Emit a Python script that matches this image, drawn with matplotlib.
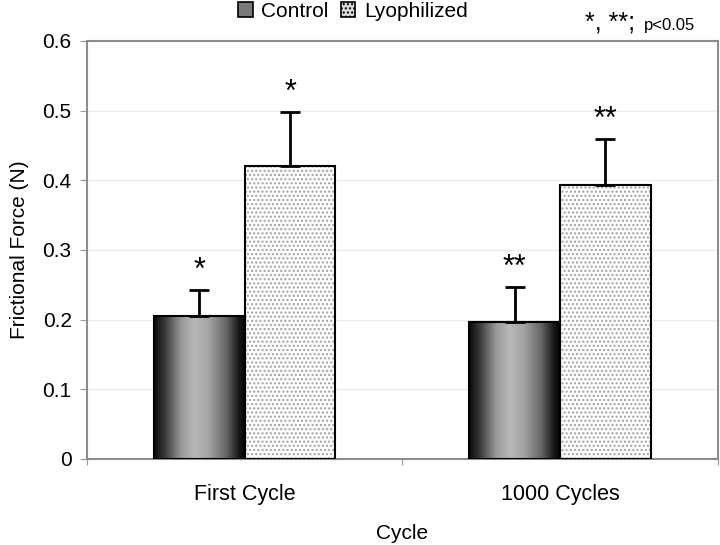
import numpy as np
import matplotlib
matplotlib.use("Agg")
import matplotlib.pyplot as plt
from matplotlib.patches import Patch
from matplotlib.colors import LinearSegmentedColormap

plt.rcParams['font.family'] = ['Liberation Sans', 'DejaVu Sans']

# data
categories = ['First Cycle', '1000 Cycles']
control = [0.205, 0.197]
control_err = [0.037, 0.050]
lyophilized = [0.421, 0.393]
lyophilized_err = [0.077, 0.066]
control_marks = ['*', '**']
lyo_marks = ['*', '**']

fig = plt.figure(figsize=(7.2, 5.45), dpi=100)
ax = fig.add_axes([0.1208, 0.1578, 0.876, 0.767])

x = np.arange(len(categories))
w = 0.288

# cylinder-like shading for control bars
cyl = LinearSegmentedColormap.from_list('cyl', [
    (0.0, '#0a0a0a'), (0.12, '#3a3a3a'), (0.3, '#9a9a9a'), (0.45, '#b8b8b8'),
    (0.6, '#a4a4a4'), (0.8, '#646464'), (0.93, '#1a1a1a'), (1.0, '#050505')])
grad = np.linspace(0, 1, 256).reshape(1, -1)

ctrl_bars = ax.bar(x - w / 2, control, w, color='none', edgecolor='black',
                   linewidth=1.5, zorder=3)
for b in ctrl_bars:
    x0, y0 = b.get_x(), b.get_y()
    im = ax.imshow(grad, cmap=cyl, aspect='auto', interpolation='bicubic',
                   extent=[x0, x0 + b.get_width(), y0, y0 + b.get_height()],
                   zorder=2)
    im.set_clip_path(b)

# dotted fill for lyophilized bars
ax.bar(x + w / 2, lyophilized, w, color='white', edgecolor='#a0a0a0',
       hatch='....', linewidth=0, zorder=2)
ax.bar(x + w / 2, lyophilized, w, color='none', edgecolor='black',
       linewidth=1.5, zorder=3)

ax.errorbar(x - w / 2, control, yerr=[np.zeros(2), control_err], fmt='none',
            ecolor='black', elinewidth=2, capsize=7, capthick=2, zorder=4)
ax.errorbar(x + w / 2, lyophilized, yerr=[np.zeros(2), lyophilized_err], fmt='none',
            ecolor='black', elinewidth=2, capsize=7, capthick=2, zorder=4)

for i in range(len(categories)):
    ax.text(x[i] - w / 2, control[i] + control_err[i] + 0.006, control_marks[i],
            ha='center', va='bottom', fontsize=22)
    ax.text(x[i] + w / 2, lyophilized[i] + lyophilized_err[i] + 0.006, lyo_marks[i],
            ha='center', va='bottom', fontsize=22)

ax.set_xlim(-0.5, 1.5)
ax.set_ylim(0, 0.6)
ax.set_yticks(np.arange(0, 0.61, 0.1))
ax.set_yticklabels(['0', '0.1', '0.2', '0.3', '0.4', '0.5', '0.6'])
ax.yaxis.grid(True, color='#ececec', linewidth=1)
ax.set_axisbelow(True)

ax.set_xticks([-0.5, 0.5, 1.5])
ax.set_xticklabels([])
ax.set_xticks(x, minor=True)
ax.set_xticklabels(categories, minor=True)
ax.tick_params(axis='x', which='minor', length=0, pad=18, labelsize=15.5)
ax.tick_params(axis='x', which='major', length=4, color='#999999')
ax.tick_params(axis='y', length=5, color='#999999', labelsize=15, pad=6)

for s in ax.spines.values():
    s.set_color('#8c8c8c')
    s.set_linewidth(1.5)

ax.set_xlabel('Cycle', fontsize=15, labelpad=14)
ax.set_ylabel('Frictional Force (N)', fontsize=15, labelpad=10)

handles = [Patch(facecolor='#7a7a7a', edgecolor='black', linewidth=1.2),
           Patch(facecolor='#dcdcdc', edgecolor='black', hatch='....', linewidth=1.2)]
fig.legend(handles, ['Control', 'Lyophilized'], loc='center', bbox_to_anchor=(0.49, 0.979),
           ncol=2, frameon=False, fontsize=15, handlelength=0.7, handleheight=0.7,
           handletextpad=0.4, columnspacing=0.6)

fig.text(0.812, 0.945, '*, **;', fontsize=18, ha='left', va='baseline')
fig.text(0.895, 0.945, 'p<0.05', fontsize=12, ha='left', va='baseline')

fig.savefig('out.png', dpi=100)
